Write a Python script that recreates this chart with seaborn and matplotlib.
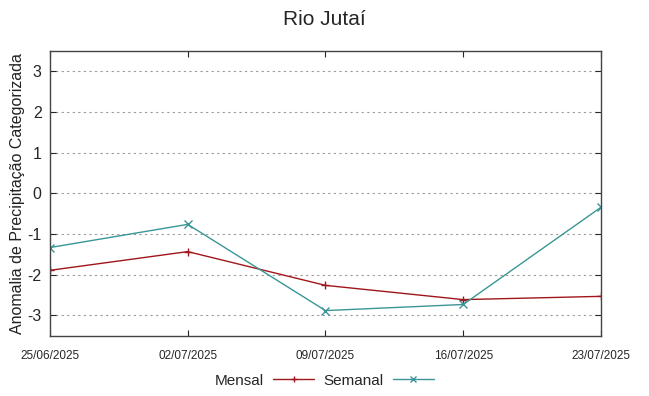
import numpy as np
import pandas as pd
import matplotlib
matplotlib.use('Agg')
import matplotlib.pyplot as plt
import matplotlib.dates as mdates
import seaborn as sns

# --- Dados ---
datas = ["2025-06-25", "2025-07-02", "2025-07-09", "2025-07-16", "2025-07-23"]
mensal = [-1.89, -1.43, -2.26, -2.61, -2.53]
semanal = [-1.33, -0.76, -2.88, -2.73, -0.34]
y_ticks = [-3, -2, -1, 0, 1, 2, 3]

sns.set_style("white")
plt.rcParams['font.family'] = ['Liberation Sans', 'DejaVu Sans']
plt.rcParams['axes.unicode_minus'] = False

df = pd.DataFrame({
    "data": pd.to_datetime(datas * 2),
    "valor": mensal + semanal,
    "serie": ["Mensal"] * len(datas) + ["Semanal"] * len(datas),
})

fig = plt.figure(figsize=(6.49, 3.96), dpi=100)
ax = fig.add_axes([0.077, 0.152, 0.849, 0.719])

cores = {"Mensal": "#a0161b", "Semanal": "#3a9696"}
marcadores = {"Mensal": "+", "Semanal": "x"}
for nome in ["Mensal", "Semanal"]:
    sub = df[df["serie"] == nome]
    sns.lineplot(data=sub, x="data", y="valor", ax=ax, color=cores[nome],
                 marker=marcadores[nome], markersize=6, markeredgewidth=1.0,
                 markeredgecolor=cores[nome], linewidth=1.0, label=nome)

ax.set_xlim(pd.to_datetime(datas[0]), pd.to_datetime(datas[-1]))
ax.set_ylim(-3.5, 3.5)
ax.set_xticks(pd.to_datetime(datas))
ax.xaxis.set_major_formatter(mdates.DateFormatter("%d/%m/%Y"))
ax.set_yticks(y_ticks)
ax.tick_params(axis='x', labelsize=8.5, direction='in', length=4, top=True, bottom=True, pad=10)
ax.tick_params(axis='y', labelsize=11.5, direction='in', length=4, left=True, right=True, pad=6)
ax.yaxis.grid(True, linestyle=(0, (2, 3)), color='#999999', linewidth=0.8)
ax.xaxis.grid(False)
for s in ax.spines.values():
    s.set_color('#444444')
    s.set_linewidth(1.0)

ax.set_xlabel("")
ax.set_ylabel("Anomalia de Precipitação Categorizada", fontsize=11.5, color='#222222', labelpad=2)
fig.suptitle("Rio Jutaí", fontsize=15, y=0.975)

ax.legend(loc='center', bbox_to_anchor=(0.498, -0.158), ncol=2, frameon=False,
          markerfirst=False, fontsize=11, handlelength=2.7, columnspacing=0.6,
          handletextpad=0.6, borderpad=0.2, markerscale=0.8)

fig.savefig("out.png", dpi=100)
